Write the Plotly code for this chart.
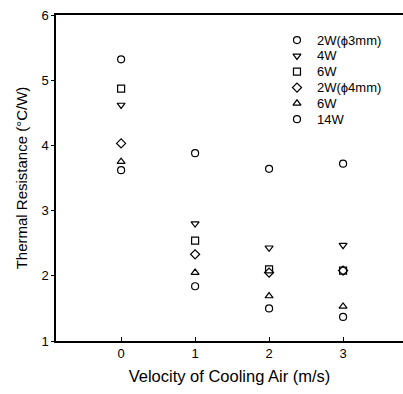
import plotly.graph_objects as go

velocity = [0, 1, 2, 3]
names = ["2W(\u03d53mm)", "4W", "6W", "2W(\u03d54mm)", "6W", "14W"]
symbols = ["circle-open", "triangle-down-open", "square-open", "diamond-open", "triangle-up-open", "circle-open"]
s_2w3 = [5.32, 3.88, 3.64, 3.72]
s_4w = [4.62, 2.80, 2.43, 2.47]
s_6w = [4.87, 2.54, 2.10, 2.08]
s_2w4 = [4.03, 2.33, 2.05, 2.08]
s_6w4 = [3.75, 2.05, 1.69, 1.53]
s_14w = [3.62, 1.84, 1.50, 1.37]
series = [s_2w3, s_4w, s_6w, s_2w4, s_6w4, s_14w]

font = "Liberation Sans, Arial, sans-serif"
mk = dict(size=7, color="black", line=dict(width=1.2, color="black"))

fig = go.Figure()
for n, sym, ys in zip(names, symbols, series):
    fig.add_trace(go.Scatter(
        x=velocity, y=ys, mode="markers", name=n, showlegend=False,
        marker=dict(symbol=sym, **mk),
    ))

# manual legend (layout in plot-area fractions)
leg_x_marker = 0.6945
leg_x_text = 0.745
leg_y0 = 0.923
leg_dy = 0.0485
leg_y = [leg_y0 - i * leg_dy for i in range(len(names))]
fig.add_trace(go.Scatter(
    x=[leg_x_marker] * len(names), y=leg_y, mode="markers", showlegend=False,
    xaxis="x2", yaxis="y2", hoverinfo="skip",
    marker=dict(symbol=symbols, **mk),
))
for n, yy in zip(names, leg_y):
    fig.add_annotation(x=leg_x_text, y=yy, xref="x2", yref="y2", text=n, showarrow=False,
                       xanchor="left", yanchor="middle", font=dict(size=13, family=font, color="black"))

fig.update_layout(
    width=403, height=394,
    margin=dict(l=56, r=0, t=15, b=53),
    paper_bgcolor="white", plot_bgcolor="white",
    font=dict(family=font, size=12, color="black"),
    showlegend=False,
    xaxis=dict(range=[-0.88, 3.81], tickvals=[0, 1, 2, 3], showgrid=False, zeroline=False,
               showline=True, linecolor="black", linewidth=1.5, mirror=True,
               ticks="inside", ticklen=4, tickcolor="black",
               title=dict(text="Velocity of Cooling Air (m/s)", font=dict(size=16.5), standoff=10),
               tickfont=dict(size=13)),
    yaxis=dict(range=[1, 6], tickvals=[1, 2, 3, 4, 5, 6], showgrid=False, zeroline=False,
               showline=True, linecolor="black", linewidth=1.5,
               ticks="outside", ticklen=3, tickcolor="black",
               title=dict(text="Thermal Resistance (\u00b0C/W)", font=dict(size=15), standoff=10),
               tickfont=dict(size=13)),
    xaxis2=dict(range=[0, 1], overlaying="x", visible=False, fixedrange=True),
    yaxis2=dict(range=[0, 1], overlaying="y", visible=False, fixedrange=True),
)
fig.write_html("out.html")
